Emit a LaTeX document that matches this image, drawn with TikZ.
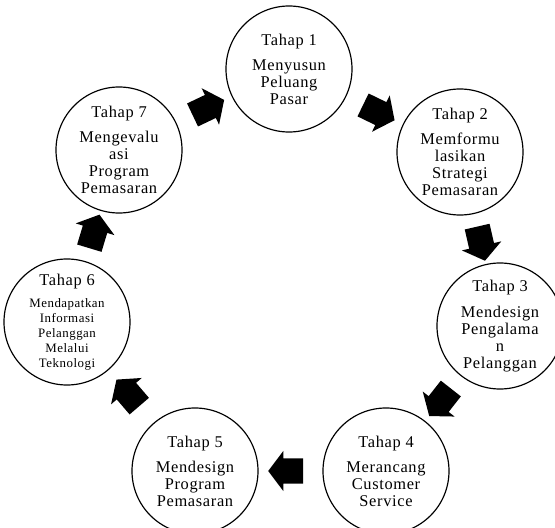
\documentclass[tikz,border=0pt]{standalone}
\usepackage{fontspec}
\setmainfont{Liberation Serif}
\usepackage{tikz}
\usetikzlibrary{shapes.arrows}
\newcommand{\tahapfont}{\fontsize{14}{14.5}\selectfont\addfontfeatures{LetterSpace=4}}
\newcommand{\kecilfont}{\fontsize{11}{12.75}\selectfont\addfontfeatures{LetterSpace=4}}
\tikzset{%
	tahap circle/.style={
		circle,
		draw,
		line width=1pt,
		minimum size=3.78cm,
		inner sep=0pt
	},
	tahap text/.style={
		align=center,
		inner sep=0pt,
		font=\tahapfont
	},
	small text/.style={
		font=\kecilfont
	},
	block arrow/.style={
		single arrow,
		fill=black,
		draw=none,
		inner xsep=0pt,
		inner ysep=0.375cm,
		minimum height=1.05cm,
		single arrow head extend=0.225cm,
		single arrow tip angle=106,
		sloped,
		allow upside down
	},
}

\begin{document}
\begin{tikzpicture}[x=0.03cm,y=-0.03cm]
			\useasboundingbox (0,0) rectangle (555,527);
			
			% Draw the circles
			\node[tahap circle] (c1) at (289,69) {};
			\node[tahap circle] (c2) at (460,152) {};
			\node[tahap circle] (c3) at (500,326) {};
			\node[tahap circle] (c4) at (386,471) {};
			\node[tahap circle] (c5) at (195,471) {};
			\node[tahap circle] (c6) at (67,322) {};
			\node[tahap circle] (c7) at (119,150) {};
			
			% Texts of the circles
			\node[tahap text] (t1) at (c1) {Tahap 1\\[7pt]Menyusun\\Peluang\\Pasar};
			\node[tahap text] (t2) at (c2) {Tahap 2\\[7pt]Memformu\\lasikan\\Strategi\\Pemasaran};
			\node[tahap text] (t3) at (c3) {Tahap 3\\[7pt]Mendesign\\Pengalama\\n\\Pelanggan};
			\node[tahap text] (t4) at (c4) {Tahap 4\\[7pt]Merancang\\Customer\\Service};
			\node[tahap text] (t5) at (c5) {Tahap 5\\[7pt]Mendesign\\Program\\Pemasaran};
			\node[tahap text, small text] (t6) at (c6) {{\tahapfont Tahap 6}\\[6pt]Mendapatkan\\Informasi\\Pelanggan\\Melalui\\Teknologi};
			\node[tahap text] (t7) at (c7) {Tahap 7\\[7pt]Mengevalu\\asi\\Program\\Pemasaran};
			
			% Draw the arrows
			\path (c1) -- node[block arrow] (a12) {} (c2);
			\path (c2) -- node[block arrow] (a23) {} (c3);
			\path (c3) -- node[block arrow] (a34) {} (c4);
			\path (c4) -- node[block arrow] (a45) {} (c5);
			\path (c5) -- node[block arrow] (a56) {} (c6);
			\path (c6) -- node[block arrow] (a67) {} (c7);
			\path (c7) -- node[block arrow] (a71) {} (c1);
			
		\end{tikzpicture}
\end{document}
